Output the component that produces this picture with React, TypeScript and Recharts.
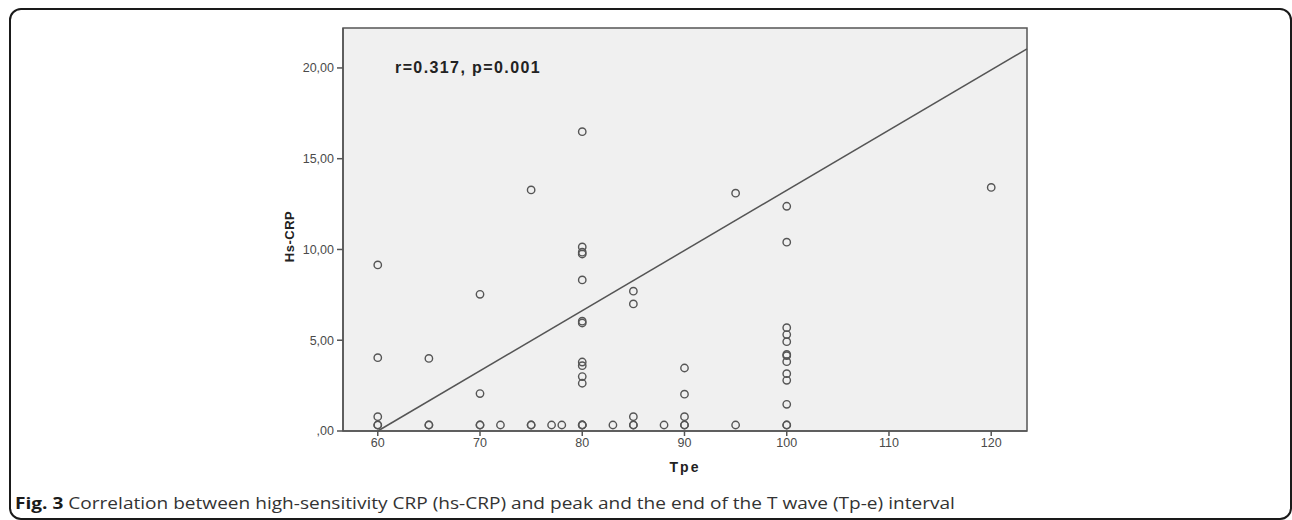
import React from "react";
import {
  CartesianGrid,
  ReferenceArea,
  ReferenceLine,
  Scatter,
  ScatterChart,
  XAxis,
  YAxis,
} from "recharts";

// Tp-e interval (ms) per patient
const tpe = [
  60, 60, 60, 60, 60,
  65, 65, 65,
  70, 70, 70, 70,
  72,
  75, 75, 75,
  77, 78,
  80, 80, 80, 80, 80, 80, 80, 80, 80, 80, 80, 80, 80, 80,
  83,
  85, 85, 85, 85, 85,
  88,
  90, 90, 90, 90, 90,
  95, 95,
  100, 100, 100, 100, 100, 100, 100, 100, 100, 100, 100, 100, 100,
  120,
];

// hs-CRP (mg/L) per patient, same order as tpe
const hsCrp = [
  9.15, 4.04, 0.79, 0.33, 0.33,
  4.0, 0.33, 0.33,
  7.53, 2.06, 0.33, 0.33,
  0.33,
  13.28, 0.33, 0.33,
  0.33, 0.33,
  16.49, 10.14, 9.85, 9.75, 8.32, 6.05, 5.95, 3.8, 3.6, 3.0, 2.63, 0.33, 0.33, 0.33,
  0.33,
  7.7, 7.0, 0.79, 0.33, 0.33,
  0.33,
  3.47, 2.03, 0.79, 0.33, 0.33,
  13.1, 0.33,
  12.38, 10.4, 5.69, 5.31, 4.92, 4.22, 4.15, 3.82, 3.16, 2.79, 1.47, 0.33, 0.33,
  13.42,
];

const xTicks = [60, 70, 80, 90, 100, 110, 120];
const yTicks = [0, 5, 10, 15, 20];
const xDomain = [56.6, 123.5];
const yDomain = [0, 22.2];

// fit line end points (Tpe, Hs-CRP)
const fitX = [60, 123.5];
const fitY = [0, 21.05];

const annotation = "r=0.317, p=0.001";
const caption = "Correlation between high-sensitivity CRP (hs-CRP) and peak and the end of the T wave (Tp-e) interval";

const data = tpe.map((x, i) => ({ tpe: x, crp: hsCrp[i] }));

const axisColor = "#555";
const tickFont = { fontFamily: "'Liberation Sans', Arial, sans-serif", fontSize: 12.5, fill: "#4a4a4a" };

const fmtY = (v: number) => (v === 0 ? ",00" : `${v},00`);

const Ring = (props: any) => {
  const { cx, cy } = props;
  if (cx == null || cy == null) return null;
  return <circle cx={cx} cy={cy} r={3.7} fill="none" stroke="#555" strokeWidth={1.4} />;
};

const YLabel = (props: any) => {
  const { viewBox } = props;
  const x = viewBox.x + 6;
  const y = viewBox.y + viewBox.height / 2 + 7;
  return (
    <text
      x={x}
      y={y}
      transform={`rotate(-90 ${x} ${y})`}
      textAnchor="middle"
      dominantBaseline="central"
      style={{ fontFamily: "'Liberation Sans', Arial, sans-serif", fontSize: 13, fontWeight: 700, fill: "#222", letterSpacing: 0.5 }}
    >
      Hs-CRP
    </text>
  );
};

const XLabel = (props: any) => {
  const { viewBox } = props;
  return (
    <text
      x={viewBox.x + viewBox.width / 2}
      y={viewBox.y + viewBox.height + 6}
      textAnchor="middle"
      dominantBaseline="central"
      style={{ fontFamily: "'Liberation Sans', Arial, sans-serif", fontSize: 14, fontWeight: 700, fill: "#222", letterSpacing: 2 }}
    >
      Tpe
    </text>
  );
};

export default function App() {
  return (
    <div style={{ position: "absolute", left: 0, top: 0, width: 1292, height: 520, background: "#fff", overflow: "hidden" }}>
      <div
        style={{
          position: "absolute",
          left: 9,
          top: 8,
          width: 1279,
          height: 508,
          border: "2px solid #1a1a1a",
          borderRadius: 12,
        }}
      />
      <ScatterChart width={1292} height={520} margin={{ left: 283, right: 265, top: 28, bottom: 59 }}>
        <CartesianGrid fill="#f0f0f0" horizontal={false} vertical={false} />
        <XAxis
          type="number"
          dataKey="tpe"
          domain={xDomain}
          ticks={xTicks}
          allowDataOverflow
          height={30}
          stroke={axisColor}
          strokeWidth={1.5}
          tickSize={5}
          tickMargin={2}
          tick={tickFont}
          label={<XLabel />}
        />
        <YAxis
          type="number"
          dataKey="crp"
          domain={yDomain}
          ticks={yTicks}
          allowDataOverflow
          width={60}
          stroke={axisColor}
          strokeWidth={1.5}
          tickSize={6}
          tickMargin={3}
          tick={tickFont}
          tickFormatter={fmtY}
          label={<YLabel />}
        />
        <ReferenceArea
          x1={xDomain[0]}
          x2={xDomain[1]}
          y1={yDomain[0]}
          y2={yDomain[1]}
          fill="none"
          stroke={axisColor}
          strokeWidth={1.5}
          ifOverflow="visible"
        />
        <ReferenceLine
          segment={[
            { x: fitX[0], y: fitY[0] },
            { x: fitX[1], y: fitY[1] },
          ]}
          stroke="#555"
          strokeWidth={1.5}
          ifOverflow="visible"
        />
        <Scatter data={data} shape={<Ring />} isAnimationActive={false} />
      </ScatterChart>
      <div
        style={{
          position: "absolute",
          left: 395,
          top: 58,
          fontFamily: "'Liberation Sans', Arial, sans-serif",
          fontSize: 16,
          fontWeight: 700,
          color: "#222",
          lineHeight: "20px",
          letterSpacing: 1.4,
        }}
      >
        {annotation}
      </div>
      <div
        style={{
          position: "absolute",
          left: 15,
          top: 492,
          fontFamily: "'Open Sans', sans-serif",
          fontSize: 15.5,
          color: "#333",
          lineHeight: "22px",
          whiteSpace: "nowrap",
          transform: "scaleX(1.23)",
          transformOrigin: "0 50%",
        }}
      >
        <b style={{ color: "#1a1a1a" }}>Fig. 3</b> {caption}
      </div>
    </div>
  );
}
